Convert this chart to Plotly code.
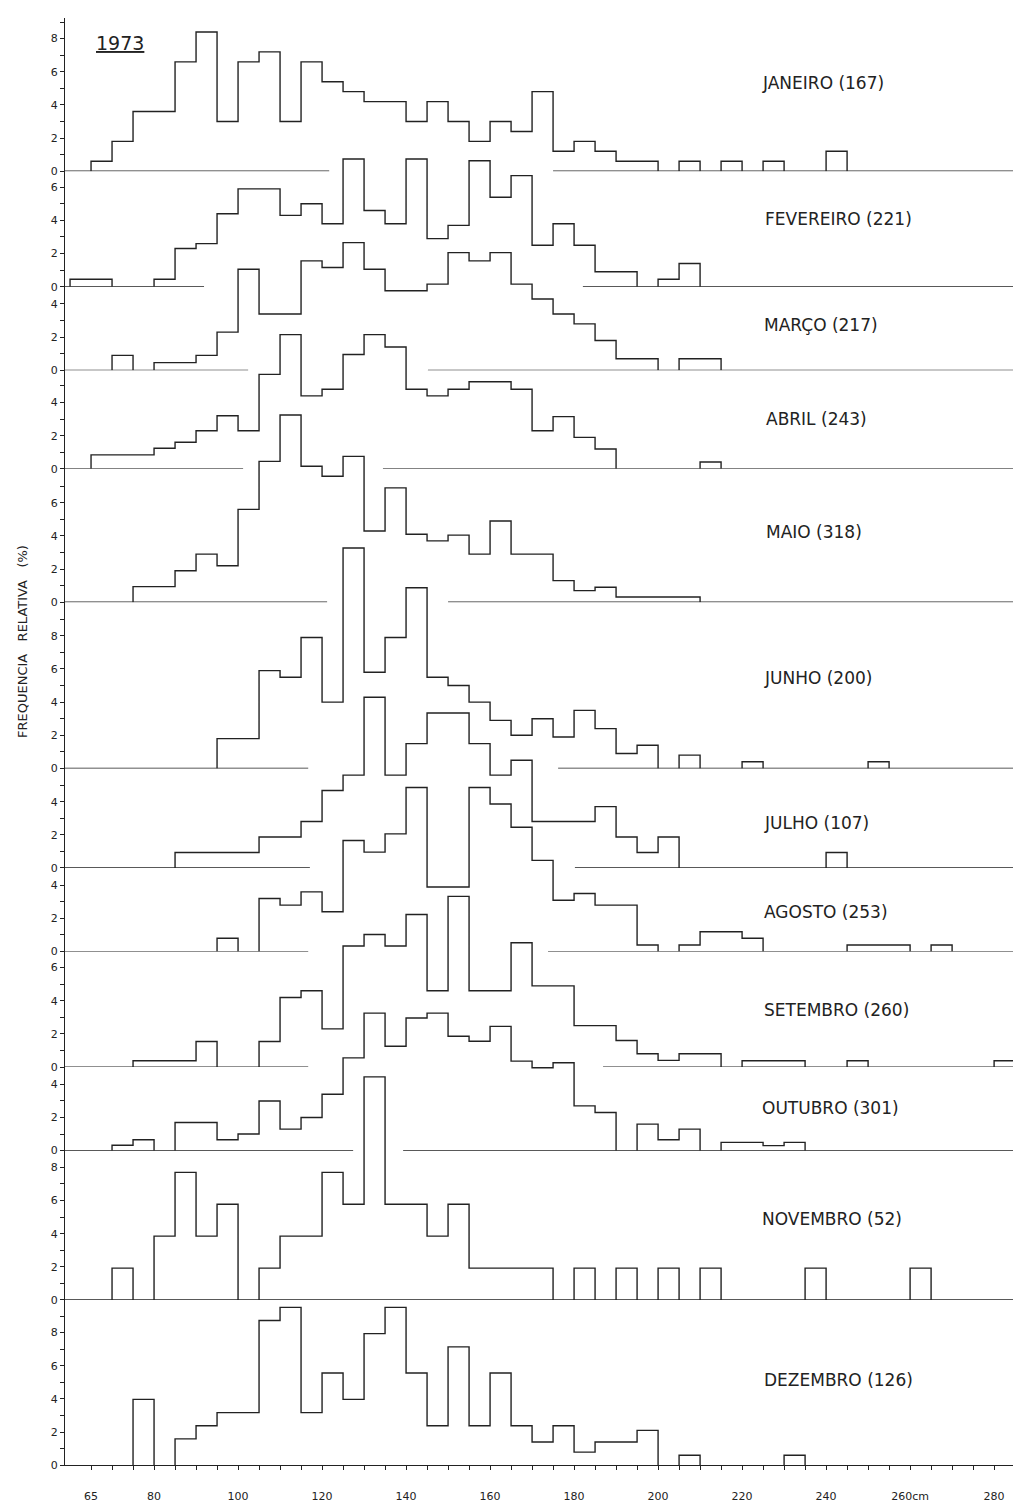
import plotly.graph_objects as go

# ---------------- figure geometry ----------------
W, H = 1013, 1510
BIN = 5                      # class width (cm)
PX_PER_UNIT = 16.65          # vertical scale (px per 1 %)
AXIS_PX = 65                 # x pixel of the vertical axis
TOP_PX = 18                  # top of the vertical axis
X_RANGE = [58.8, 284.5]      # cm shown from the axis to the right edge
INK = "#222222"
FONT = "DejaVu Sans"

# ---------------- data (relative frequency %, 5 cm classes) ----------------
MONTHS = ["JANEIRO (167)", "FEVEREIRO (221)", "MARÇO (217)", "ABRIL (243)",
          "MAIO (318)", "JUNHO (200)", "JULHO (107)", "AGOSTO (253)",
          "SETEMBRO (260)", "OUTUBRO (301)", "NOVEMBRO (52)", "DEZEMBRO (126)"]

JAN_START = 65
JAN = [0.6, 1.8, 3.6, 3.6, 6.6, 8.4, 3.0, 6.6, 7.2, 3.0, 6.6, 5.4, 4.8, 4.2, 4.2,
       3.0, 4.2, 3.0, 1.8, 3.0, 2.4, 4.8, 1.2, 1.8, 1.2, 0.6, 0.6, 0, 0.6, 0,
       0.6, 0, 0.6, 0, 0, 1.2]
FEV_START = 60
FEV = [0.45, 0.45, 0, 0, 0.45, 2.3, 2.6, 4.4, 5.9, 5.9, 4.3, 5.0, 3.8, 7.7, 4.6,
       3.8, 7.7, 2.9, 3.7, 7.6, 5.4, 6.7, 2.5, 3.8, 2.5, 0.9, 0.9, 0, 0.45, 1.4]
MAR_START = 70
MAR = [0.9, 0, 0.46, 0.46, 0.9, 2.3, 6.1, 3.4, 3.4, 6.6, 6.2, 7.7, 6.1, 4.8, 4.8,
       5.2, 7.1, 6.6, 7.1, 5.2, 4.3, 3.4, 2.8, 1.8, 0.7, 0.7, 0, 0.7, 0.7]
ABR_START = 65
ABR = [0.84, 0.84, 0.84, 1.24, 1.6, 2.3, 3.2, 2.3, 5.7, 8.1, 4.4, 4.8, 6.9, 8.1,
       7.35, 4.8, 4.4, 4.8, 5.25, 5.25, 4.8, 2.3, 3.15, 1.9, 1.2, 0, 0, 0, 0, 0.41]
MAI_START = 75
MAI = [0.94, 0.94, 1.9, 2.9, 2.2, 5.6, 8.5, 11.3, 8.2, 7.6, 8.8, 4.3, 6.9, 4.1,
       3.7, 4.05, 2.9, 4.9, 2.9, 2.9, 1.3, 0.7, 0.9, 0.31, 0.31, 0.31, 0.31]
JUN_START = 95
JUN = [1.8, 1.8, 5.9, 5.5, 7.9, 4.0, 13.3, 5.8, 7.9, 10.9, 5.5, 5.0, 4.0, 2.9,
       2.0, 3.0, 1.9, 3.5, 2.4, 0.9, 1.4, 0, 0.8, 0, 0, 0.4, 0, 0, 0, 0, 0, 0.4]
JUL_START = 85
JUL = [0.93, 0.93, 0.93, 0.93, 1.87, 1.87, 2.8, 4.67, 5.6, 10.3, 5.6, 7.5, 9.35,
       9.35, 7.5, 5.6, 6.5, 2.8, 2.8, 2.8, 3.7, 1.87, 0.93, 1.87, 0, 0, 0, 0, 0,
       0, 0, 0.93]
AGO_START = 95
AGO = [0.8, 0, 3.2, 2.8, 3.6, 2.4, 6.7, 6.0, 7.1, 9.9, 3.9, 3.9, 9.9, 8.9, 7.5,
       5.5, 3.1, 3.5, 2.8, 2.8, 0.4, 0, 0.4, 1.2, 1.2, 0.8, 0, 0, 0, 0, 0.4, 0.4,
       0.4, 0, 0.4]
SET_START = 75
SET = [0.38, 0.38, 0.38, 1.54, 0, 0, 1.54, 4.2, 4.6, 2.3, 7.3, 8.0, 7.3, 9.2,
       4.6, 10.3, 4.6, 4.6, 7.5, 4.9, 4.9, 2.5, 2.5, 1.6, 0.8, 0.4, 0.8, 0.8, 0,
       0.38, 0.38, 0.38, 0, 0, 0.38, 0, 0, 0, 0, 0, 0, 0.38]
OUT_START = 70
OUT = [0.33, 0.66, 0, 1.7, 1.7, 0.66, 1.0, 3.0, 1.3, 2.0, 3.4, 5.6, 8.3, 6.3, 8.0,
       8.3, 6.9, 6.6, 7.5, 5.4, 5.0, 5.3, 2.7, 2.3, 0, 1.6, 0.66, 1.3, 0, 0.5, 0.5,
       0.3, 0.5]
NOV_START = 70
NOV = [1.92, 0, 3.85, 7.7, 3.85, 5.77, 0, 1.92, 3.85, 3.85, 7.7, 5.77, 13.46,
       5.77, 5.77, 3.85, 5.77, 1.92, 1.92, 1.92, 1.92, 0, 1.92, 0, 1.92, 0, 1.92,
       0, 1.92, 0, 0, 0, 0, 1.92, 0, 0, 0, 0, 1.92]
DEZ_START = 75
DEZ = [3.97, 0, 1.59, 2.38, 3.17, 3.17, 8.73, 9.52, 3.17, 5.56, 3.97, 7.94, 9.52,
       5.56, 2.38, 7.14, 2.38, 5.56, 2.38, 1.4, 2.38, 0.79, 1.4, 1.4, 2.1, 0, 0.6,
       0, 0, 0, 0, 0.6]

SERIES = [JAN, FEV, MAR, ABR, MAI, JUN, JUL, AGO, SET, OUT, NOV, DEZ]
STARTS = [JAN_START, FEV_START, MAR_START, ABR_START, MAI_START, JUN_START,
          JUL_START, AGO_START, SET_START, OUT_START, NOV_START, DEZ_START]

# x tick labels
X_TICK_LABELS = {65: "65", 80: "80", 100: "100", 120: "120", 140: "140",
                 160: "160", 180: "180", 200: "200", 220: "220", 240: "240",
                 260: "260cm", 280: "280"}

# ---------------- layout of the 12 stacked panels ----------------
BASELINE_PX = [172, 288, 372, 471, 605, 772, 872, 956, 1072, 1156, 1306, 1472]
TICK_MAX = [9, 6, 4, 5, 7, 9, 5, 4, 6, 4, 8, 9]
# interruptions of each zero line (cm) where the panel below rises through it
BASELINE_GAPS = [(121.7, 175.0), (91.9, 182.1), (102.4, 145.2), (101.2, 134.5),
                 (121.2, 150.0), (116.7, 176.2), (117.1, 180.2), (116.7, 173.8),
                 (116.7, 186.9), (127.4, 139.3), None, None]
LABEL_POS = [(760, 83), (763, 220), (762, 327), (764, 421), (764, 534), (762, 681),
             (762, 827), (762, 916), (762, 1015), (760, 1113), (760, 1225),
             (762, 1386)]


def py(px):
    return 1 - px / H


def pxx(px):
    return px / W


fig = go.Figure()
layout = {}

for i in range(12):
    axname = "yaxis" if i == 0 else f"yaxis{i + 1}"
    yref = "y" if i == 0 else f"y{i + 1}"
    base = BASELINE_PX[i]
    top_val = (base - TOP_PX) / PX_PER_UNIT
    ticks = list(range(0, TICK_MAX[i] + 1))
    layout[axname] = dict(
        domain=[py(base), py(TOP_PX)], range=[0, top_val], anchor="x",
        tickmode="array", tickvals=ticks,
        ticktext=[str(t) if t % 2 == 0 else "" for t in ticks],
        ticks="outside", ticklen=4, tickwidth=1, tickcolor=INK,
        showline=(i == 11), linecolor=INK, linewidth=1.3,
        showgrid=False, zeroline=False, fixedrange=True,
        tickfont=dict(size=11, color=INK, family=FONT),
    )

    # zero line of the panel (with its interruption)
    if i < 11:
        gap = BASELINE_GAPS[i]
        if gap is None:
            bx, by = [X_RANGE[0], X_RANGE[1]], [0, 0]
        else:
            bx = [X_RANGE[0], gap[0], None, gap[1], X_RANGE[1]]
            by = [0, 0, None, 0, 0]
        fig.add_trace(go.Scatter(x=bx, y=by, yaxis=yref, mode="lines",
                                 line=dict(color=INK, width=1.3),
                                 hoverinfo="skip", showlegend=False))

    # histogram outline, one stepped run per contiguous group of non-zero classes
    vals, start = SERIES[i], STARTS[i]
    xs, ys = [], []
    j, n = 0, len(vals)
    while j < n:
        if vals[j] == 0:
            j += 1
            continue
        k = j
        while k < n and vals[k] != 0:
            k += 1
        xs.append(start + BIN * j)
        ys.append(0)
        for m in range(j, k):
            xs.append(start + BIN * m)
            ys.append(vals[m])
        xs.append(start + BIN * k)
        ys.append(0)
        xs.append(None)
        ys.append(None)
        j = k
    fig.add_trace(go.Scatter(x=xs, y=ys, yaxis=yref, mode="lines",
                             line=dict(shape="hv", color=INK, width=1.4),
                             connectgaps=False, hoverinfo="skip",
                             showlegend=False, name=MONTHS[i]))

x_ticks = list(range(65, 285, 5))
layout["xaxis"] = dict(
    domain=[pxx(AXIS_PX), 1], range=X_RANGE, anchor="y12",
    tickmode="array", tickvals=x_ticks,
    ticktext=[X_TICK_LABELS.get(t, "") for t in x_ticks],
    ticks="outside", ticklen=4, tickwidth=1, tickcolor=INK,
    showline=True, linecolor=INK, linewidth=1.3, showgrid=False,
    zeroline=False, fixedrange=True, ticklabelstandoff=16,
    tickfont=dict(size=11, color=INK, family=FONT),
)

annotations = []
for i, name in enumerate(MONTHS):
    lx, ly = LABEL_POS[i]
    annotations.append(dict(
        text=name, x=pxx(lx), y=py(ly), xref="paper", yref="paper",
        xanchor="left", yanchor="middle", showarrow=False,
        font=dict(size=17, color=INK, family=FONT)))

annotations.append(dict(
    text="<u>1973</u>", x=pxx(94), y=py(43), xref="paper", yref="paper",
    xanchor="left", yanchor="middle", showarrow=False,
    font=dict(size=19, color=INK, family=FONT)))

annotations.append(dict(
    text="FREQUENCIA\u00a0\u00a0 RELATIVA\u00a0\u00a0 (%)", x=pxx(22), y=py(645),
    xref="paper", yref="paper", xanchor="center", yanchor="middle",
    textangle=-90, showarrow=False,
    font=dict(size=13, color=INK, family=FONT)))

fig.update_layout(
    width=W, height=H, margin=dict(l=0, r=0, t=0, b=0),
    paper_bgcolor="white", plot_bgcolor="rgba(0,0,0,0)",
    annotations=annotations, hovermode=False, showlegend=False,
    **layout,
)

fig.write_html("out.html", config={"displayModeBar": False})
